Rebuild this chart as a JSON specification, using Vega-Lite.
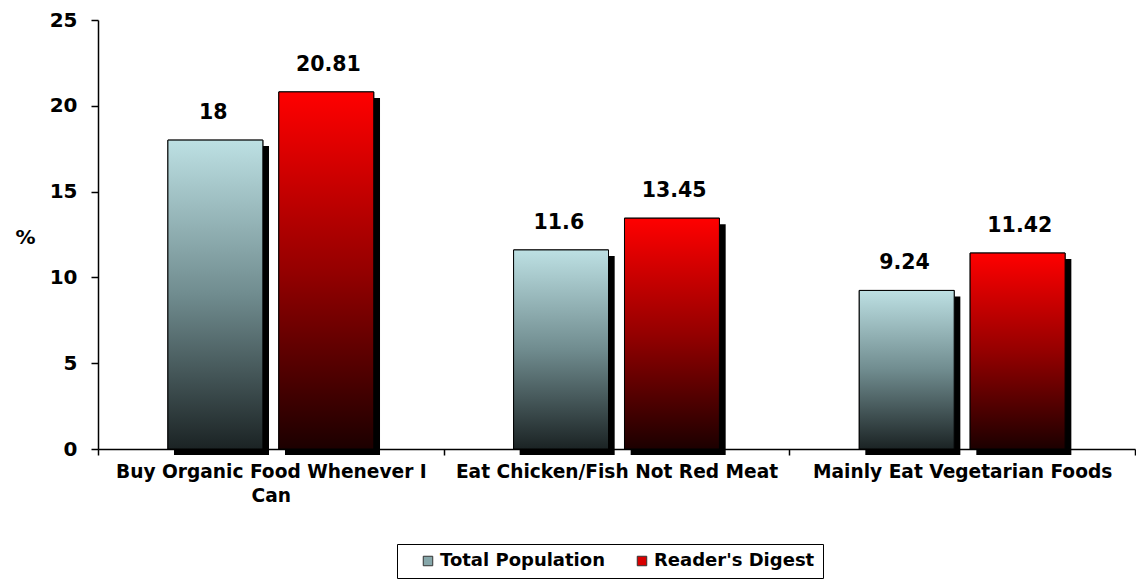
{
  "$schema": "https://vega.github.io/schema/vega-lite/v6.json",
  "width": 1037,
  "height": 429,
  "autosize": {"type": "none"},
  "padding": {"left": 98, "top": 20, "right": 1, "bottom": 133},
  "background": "white",
  "config": {"font": "DejaVu Sans", "view": {"stroke": null}},
  "data": {
    "values": [
      {"item": "Buy Organic Food Whenever I Can", "series": "Total Population", "value": 18, "label": "18"},
      {"item": "Buy Organic Food Whenever I Can", "series": "Reader's Digest", "value": 20.81, "label": "20.81"},
      {"item": "Eat Chicken/Fish Not Red Meat", "series": "Total Population", "value": 11.6, "label": "11.6"},
      {"item": "Eat Chicken/Fish Not Red Meat", "series": "Reader's Digest", "value": 13.45, "label": "13.45"},
      {"item": "Mainly Eat Vegetarian Foods", "series": "Total Population", "value": 9.24, "label": "9.24"},
      {"item": "Mainly Eat Vegetarian Foods", "series": "Reader's Digest", "value": 11.42, "label": "11.42"}
    ]
  },
  "encoding": {
    "x": {
      "field": "item",
      "type": "nominal",
      "sort": ["Buy Organic Food Whenever I Can", "Eat Chicken/Fish Not Red Meat", "Mainly Eat Vegetarian Foods"],
      "scale": {"paddingInner": 0, "paddingOuter": 0},
      "axis": {
        "title": null,
        "labelAngle": 0,
        "labelFont": "DejaVu Sans",
        "labelFontSize": 18.6,
        "labelFontWeight": "bold",
        "labelColor": "black",
        "labelLimit": 500,
        "labelPadding": 7,
        "labelLineHeight": 24,
        "labelExpr": "datum.value == 'Buy Organic Food Whenever I Can' ? ['Buy Organic Food Whenever I', 'Can'] : datum.value",
        "domainColor": "black",
        "domainWidth": 1.5,
        "tickColor": "black",
        "tickWidth": 1.5,
        "tickSize": 6,
        "tickBand": "extent"
      }
    },
    "y": {
      "field": "value",
      "type": "quantitative",
      "scale": {"domain": [0, 25], "nice": false},
      "axis": {
        "values": [0, 5, 10, 15, 20, 25],
        "grid": false,
        "title": "%",
        "titleAngle": 0,
        "titleX": -73,
        "titleY": 217,
        "titleAlign": "center",
        "titleBaseline": "middle",
        "titleFont": "DejaVu Sans",
        "titleFontSize": 20,
        "titleFontWeight": "bold",
        "titleColor": "black",
        "labelFont": "DejaVu Sans",
        "labelFontSize": 20,
        "labelFontWeight": "bold",
        "labelColor": "black",
        "labelPadding": 14,
        "domainColor": "black",
        "domainWidth": 1.5,
        "tickColor": "black",
        "tickWidth": 1.5,
        "tickSize": 7
      }
    }
  },
  "layer": [
    {
      "mark": {"type": "bar", "fill": "black", "yOffset": 6},
      "encoding": {
        "xOffset": {
          "field": "series",
          "type": "nominal",
          "scale": {"domain": ["Total Population", "Reader's Digest"], "range": [6, 352], "paddingInner": 0.144, "paddingOuter": 0.6305}
        }
      }
    },
    {
      "mark": {"type": "bar", "stroke": "black", "strokeWidth": 1},
      "encoding": {
        "xOffset": {
          "field": "series",
          "type": "nominal",
          "scale": {"domain": ["Total Population", "Reader's Digest"], "paddingInner": 0.144, "paddingOuter": 0.6305}
        },
        "color": {
          "field": "series",
          "type": "nominal",
          "scale": {"domain": ["Total Population", "Reader's Digest"], "range": ["#86a7aa", "#d80000"]},
          "legend": {
            "orient": "none",
            "legendX": 299,
            "legendY": 524,
            "direction": "horizontal",
            "title": null,
            "strokeColor": "black",
            "fillColor": "white",
            "padding": 8,
            "symbolType": "square",
            "symbolSize": 90,
            "symbolStrokeColor": "#333333",
            "symbolStrokeWidth": 1,
            "symbolOffset": 14,
            "labelFont": "DejaVu Sans",
            "labelFontSize": 18,
            "labelFontWeight": "bold",
            "labelColor": "black",
            "labelLimit": 400,
            "labelOffset": 3,
            "columnPadding": 14
          }
        }
      }
    },
    {
      "transform": [{"filter": "datum.series == 'Total Population'"}],
      "mark": {
        "type": "bar",
        "stroke": "black",
        "strokeWidth": 1,
        "fill": {"gradient": "linear", "x1": 0, "y1": 0, "x2": 0, "y2": 1, "stops": [{"offset": 0, "color": "#bde0e3"}, {"offset": 0.5, "color": "#708c8f"}, {"offset": 1, "color": "#1b2324"}]}
      },
      "encoding": {
        "xOffset": {
          "field": "series",
          "type": "nominal",
          "scale": {"domain": ["Total Population", "Reader's Digest"], "paddingInner": 0.144, "paddingOuter": 0.6305}
        }
      }
    },
    {
      "transform": [{"filter": "datum.series == \"Reader's Digest\""}],
      "mark": {
        "type": "bar",
        "stroke": "black",
        "strokeWidth": 1,
        "fill": {"gradient": "linear", "x1": 0, "y1": 0, "x2": 0, "y2": 1, "stops": [{"offset": 0, "color": "#ff0000"}, {"offset": 0.5, "color": "#950000"}, {"offset": 1, "color": "#1c0000"}]}
      },
      "encoding": {
        "xOffset": {
          "field": "series",
          "type": "nominal",
          "scale": {"domain": ["Total Population", "Reader's Digest"], "paddingInner": 0.144, "paddingOuter": 0.6305}
        }
      }
    },
    {
      "mark": {"type": "text", "dy": -27, "font": "DejaVu Sans", "fontSize": 20.5, "fontWeight": "bold", "color": "black"},
      "encoding": {
        "xOffset": {
          "field": "series",
          "type": "nominal",
          "scale": {"type": "point", "domain": ["Total Population", "Reader's Digest"], "padding": 1.0586}
        },
        "text": {"field": "label", "type": "nominal"}
      }
    }
  ],
  "resolve": {"scale": {"xOffset": "independent"}}
}
